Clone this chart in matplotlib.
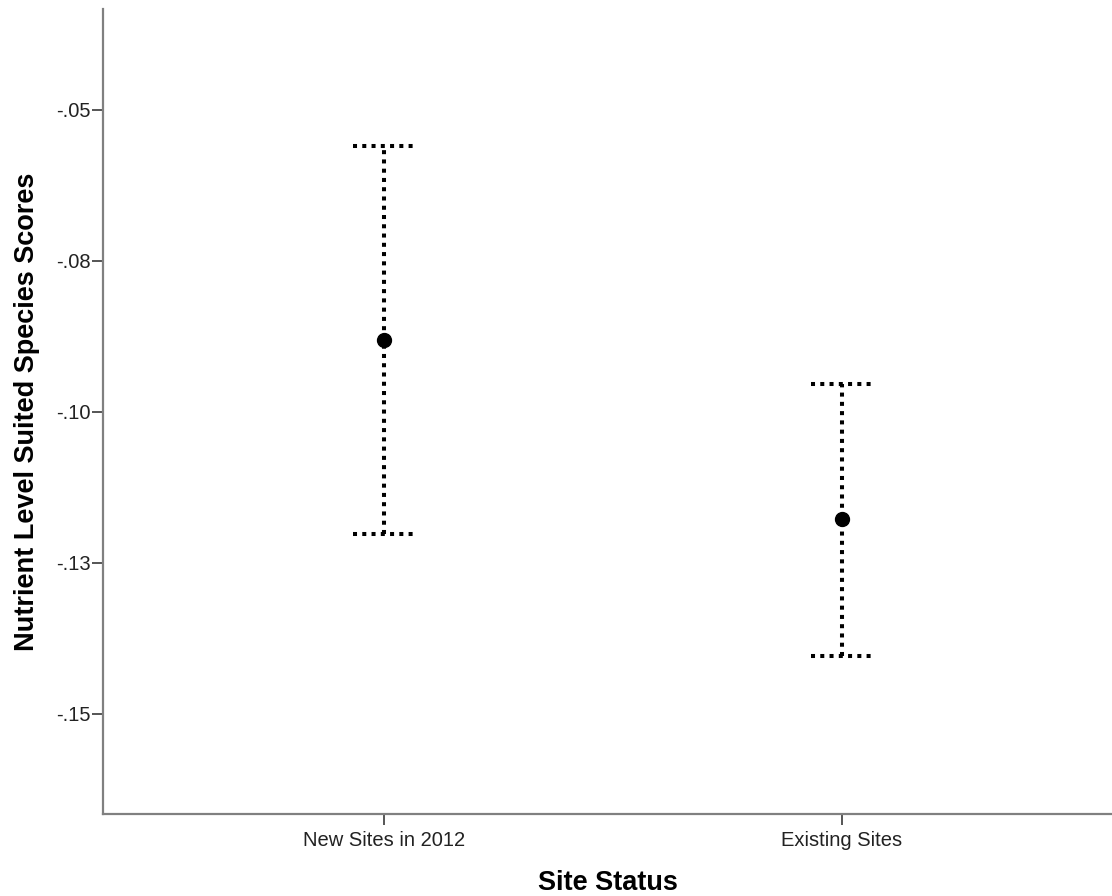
import matplotlib
matplotlib.use('Agg')
import matplotlib.pyplot as plt
import numpy as np

plt.rcParams['font.family'] = ['Liberation Sans', 'DejaVu Sans']

# data (means with error bar ends)
site_status = ['New Sites in 2012', 'Existing Sites']
means = [-0.0881, -0.1177]
upper = [-0.0560, -0.0954]
lower = [-0.1202, -0.1404]
y_ticks = [-0.050, -0.075, -0.100, -0.125, -0.150]
y_tick_labels = ['-.05', '-.08', '-.10', '-.13', '-.15']

fig = plt.figure(figsize=(11.12, 8.96), dpi=100)
ax = fig.add_axes([0.093, 0.0915, 0.907, 0.8985])

x = np.arange(len(site_status))
cap = 0.0666
dots = (0, (1.0, 1.3))

ax.vlines(x, lower, upper, colors='black', linewidth=2.9, linestyles=dots)
ax.hlines(upper, x - cap, x + cap, colors='black', linewidth=2.9, linestyles=dots)
ax.hlines(lower, x - cap, x + cap, colors='black', linewidth=2.9, linestyles=dots)
ax.plot(x, means, 'o', color='black', markersize=10, zorder=3)

ax.set_xlim(-0.612, 1.59)
ax.set_ylim(-0.16656, -0.03328)
ax.set_xticks(x)
ax.set_xticklabels(site_status)
ax.set_yticks(y_ticks)
ax.set_yticklabels(y_tick_labels)

for s in ['top', 'right']:
    ax.spines[s].set_visible(False)
for s in ['left', 'bottom']:
    ax.spines[s].set_color('#808080')
    ax.spines[s].set_linewidth(1.6)

ax.tick_params(axis='both', length=8, width=1.4, color='#555555',
               labelsize=14.5, labelcolor='#222222')
ax.tick_params(axis='y', pad=1)
ax.tick_params(axis='x', pad=4)

ax.set_xlabel('Site Status', fontsize=19.5, fontweight='bold')
ax.set_ylabel('Nutrient Level Suited Species Scores', fontsize=19.5, fontweight='bold')
ax.xaxis.set_label_coords(0.5, -0.069)
ax.yaxis.set_label_coords(-0.063, 0.5)

fig.savefig('out.png', dpi=100)
